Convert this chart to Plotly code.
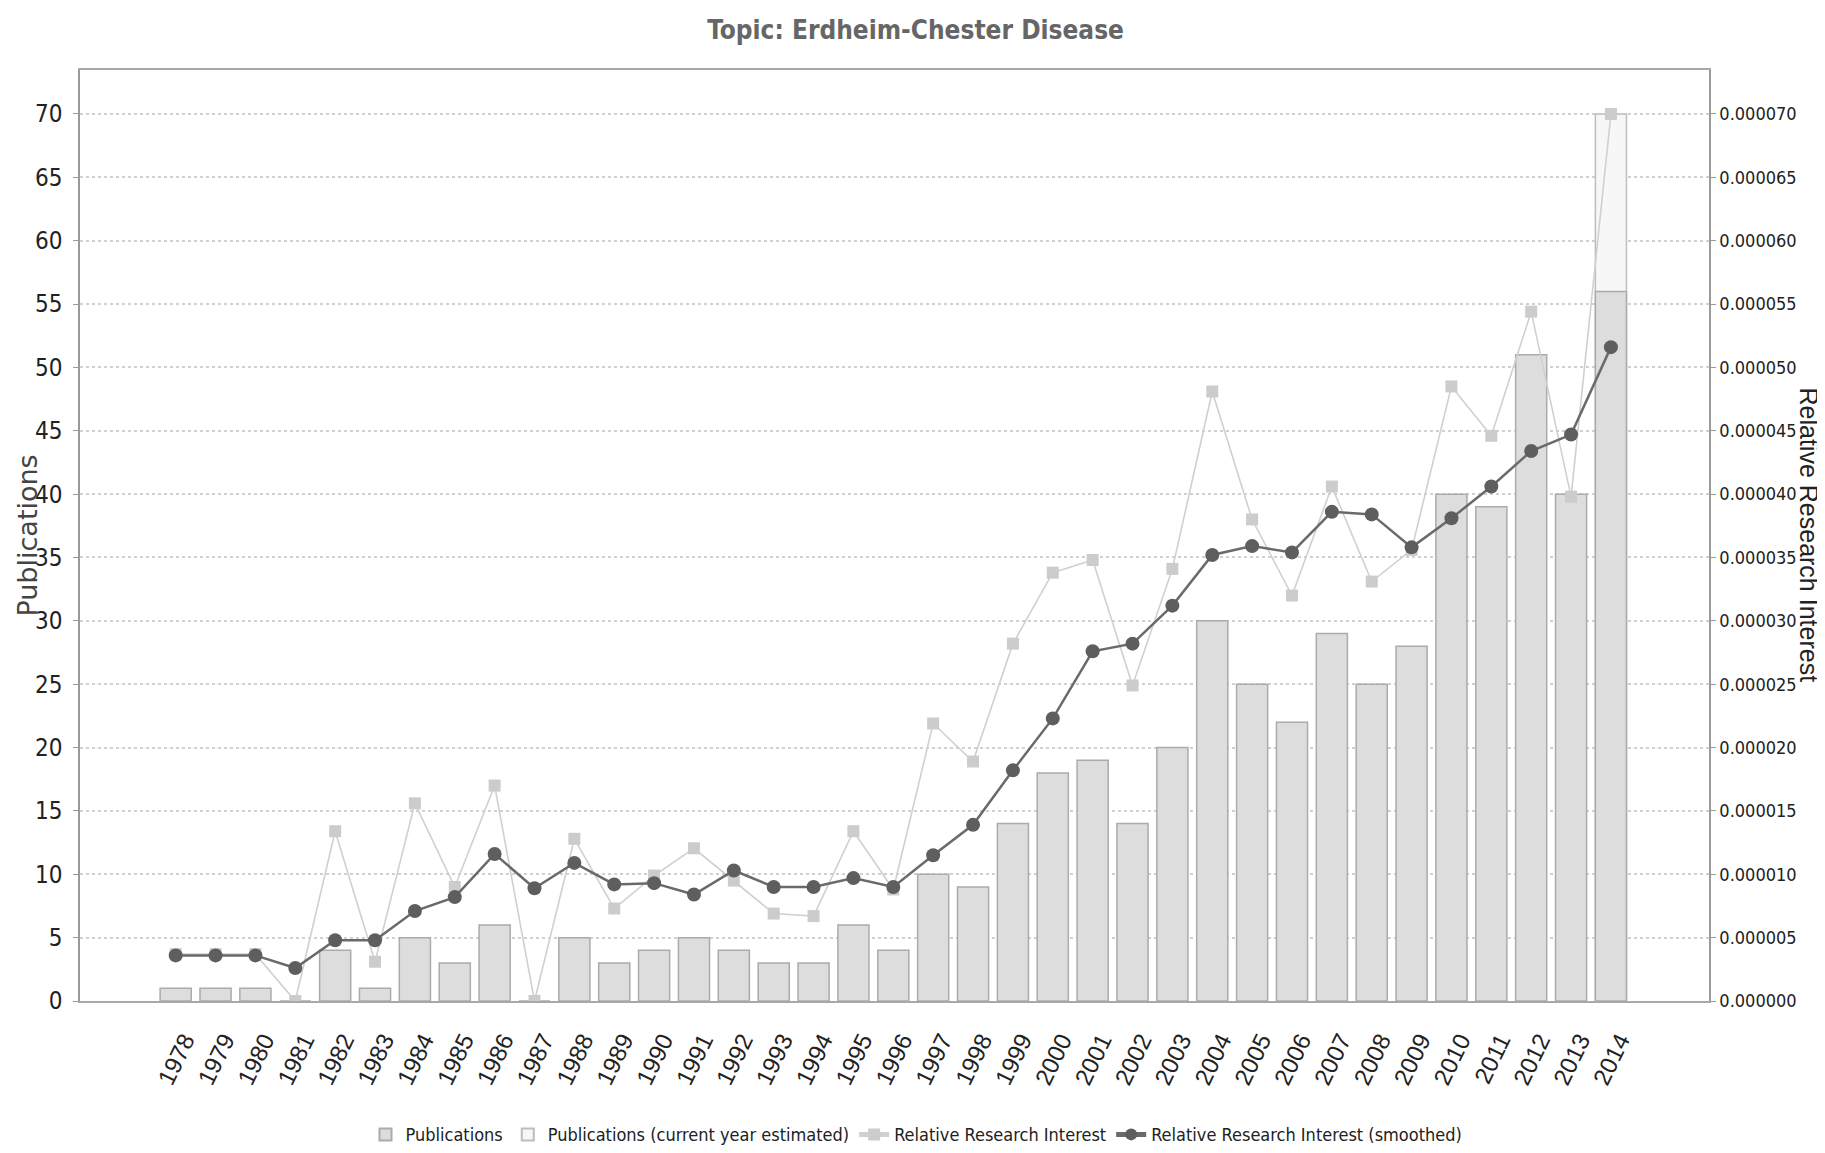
import plotly.graph_objects as go

years = list(range(1978, 2015))
year_labels = [str(y) for y in years]

publications = [1, 1, 1, 0, 4, 1, 5, 3, 6, 0,
                5, 3, 4, 5, 4, 3, 3, 6, 4, 10,
                9, 14, 18, 19, 14, 20, 30, 25, 22, 29,
                25, 28, 40, 39, 51, 40, 56]

# current-year estimate (only 2014)
publications_estimated = [None] * 36 + [70]

rri = [3.7e-6, 3.7e-6, 3.7e-6, 0.0, 13.4e-6, 3.1e-6, 15.6e-6, 9.0e-6, 17.0e-6, 0.0,
       12.8e-6, 7.3e-6, 9.9e-6, 12.05e-6, 9.5e-6, 6.9e-6, 6.7e-6, 13.4e-6, 8.8e-6, 21.9e-6,
       18.9e-6, 28.2e-6, 33.8e-6, 34.8e-6, 24.9e-6, 34.1e-6, 48.1e-6, 38.0e-6, 32.0e-6, 40.6e-6,
       33.1e-6, 35.6e-6, 48.5e-6, 44.6e-6, 54.4e-6, 39.8e-6, 70.0e-6]

rri_smoothed = [3.6e-6, 3.6e-6, 3.6e-6, 2.6e-6, 4.8e-6, 4.8e-6, 7.1e-6, 8.2e-6, 11.6e-6, 8.9e-6,
                10.9e-6, 9.2e-6, 9.3e-6, 8.4e-6, 10.3e-6, 9.0e-6, 9.0e-6, 9.7e-6, 9.0e-6, 11.5e-6,
                13.9e-6, 18.2e-6, 22.3e-6, 27.6e-6, 28.2e-6, 31.2e-6, 35.2e-6, 35.9e-6, 35.4e-6, 38.6e-6,
                38.4e-6, 35.8e-6, 38.1e-6, 40.6e-6, 43.4e-6, 44.7e-6, 51.6e-6]

left_ticks = list(range(0, 75, 5))
right_ticks = [v * 1e-6 for v in left_ticks]

NARROW = "Liberation Sans Narrow, Arial Narrow, DejaVu Sans Condensed, sans-serif"
TOP = 73.47

fig = go.Figure()

fig.add_trace(go.Bar(
    x=years, y=publications_estimated, name="Publications (current year estimated)",
    marker=dict(color="#f7f7f7", line=dict(color="#bdbdbd", width=1.5)),
    width=0.78, showlegend=True, legendrank=2,
))
fig.add_trace(go.Bar(
    x=years, y=publications, name="Publications",
    marker=dict(color="#dddddd", line=dict(color="#ababab", width=1.5)),
    width=0.78, legendrank=1,
))
fig.add_trace(go.Scatter(
    x=years, y=rri, name="Relative Research Interest", yaxis="y2",
    mode="lines+markers", legendrank=3,
    line=dict(color="#d0d0d0", width=1.6),
    marker=dict(symbol="square", size=12, color="#cccccc"),
))
fig.add_trace(go.Scatter(
    x=years, y=rri_smoothed, name="Relative Research Interest (smoothed)", yaxis="y2",
    mode="lines+markers", legendrank=4,
    line=dict(color="#6a6a6a", width=2.5),
    marker=dict(symbol="circle", size=14, color="#5e5e5e"),
))

fig.update_layout(
    width=1817, height=1145,
    paper_bgcolor="white", plot_bgcolor="white",
    margin=dict(l=72, r=116, t=62, b=152),
    barmode="overlay",
    title=dict(text="<b>Topic: Erdheim-Chester Disease</b>", x=0.4995, xref="container",
               y=0.981, yref="container", xanchor="center", yanchor="middle",
               font=dict(family=NARROW, size=26, color="#666666")),
    xaxis=dict(
        range=[1975.6, 2016.46], tickmode="array", tickvals=years, ticktext=year_labels,
        tickangle=-64, tickfont=dict(family="Liberation Sans, Arial, sans-serif", size=24, color="#222222"),
        ticklabelstandoff=14, ticklabelshift=9,
        showgrid=False, zeroline=False, showline=True, linecolor="#a8a8a8", linewidth=2,
        mirror=True, ticks="", fixedrange=True, automargin=False,
    ),
    yaxis=dict(
        range=[0, TOP], tickmode="array", tickvals=left_ticks,
        tickfont=dict(family=NARROW, size=24, color="#222222"),
        showgrid=True, gridcolor="#d0d0d0", griddash="dot", gridwidth=1.5,
        zeroline=False, showline=True, linecolor="#9a9a9a", linewidth=1.5,
        ticks="outside", ticklen=5, tickcolor="#9a9a9a", ticklabelstandoff=6,
        automargin=False,
    ),
    yaxis2=dict(
        range=[0, TOP * 1e-6], overlaying="y", side="right", tickmode="array",
        tickvals=right_ticks, tickformat=".6f",
        tickfont=dict(family=NARROW, size=18, color="#222222"),
        showgrid=False, zeroline=False, showline=True, linecolor="#9a9a9a", linewidth=1.5,
        ticks="outside", ticklen=5, tickcolor="#9a9a9a", automargin=False,
    ),
    legend=dict(
        orientation="h", x=0.5, xref="container", xanchor="center",
        y=0.016, yref="container", yanchor="middle",
        font=dict(family=NARROW, size=18, color="#222222"),
        traceorder="normal", itemsizing="constant",
    ),
    annotations=[
        dict(text="Publications", xref="paper", yref="paper", x=-0.0325, y=0.50,
             textangle=-90, showarrow=False, xanchor="center", yanchor="middle",
             font=dict(family="DejaVu Sans, sans-serif", size=27, color="#444444")),
        dict(text="Relative Research Interest", xref="paper", yref="paper", x=1.062, y=0.50,
             textangle=90, showarrow=False, xanchor="center", yanchor="middle",
             font=dict(family="Liberation Sans, Arial, sans-serif", size=25, color="#222222")),
    ],
)

fig.write_html("out.html")
